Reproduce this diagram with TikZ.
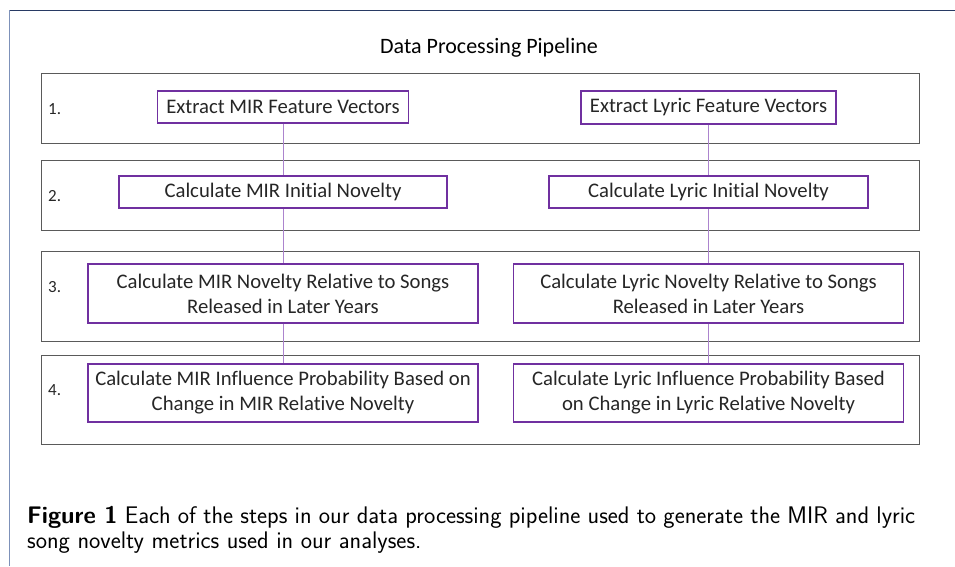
\documentclass[tikz,border=0pt]{standalone}
\usepackage{fontspec}
\setmainfont{Carlito}[Ligatures=NoCommon]
\usepackage{tikz}
\usetikzlibrary{shapes,arrows}
\usetikzlibrary{calc}

\definecolor{stepPurple}{RGB}{112,48,160}
\definecolor{linkPurple}{RGB}{172,132,206}
\definecolor{rowGray}{RGB}{90,90,90}
\definecolor{frameTop}{RGB}{40,58,100}
\definecolor{frameSide}{RGB}{125,145,185}
\definecolor{stepText}{RGB}{38,38,38}

\tikzset{
	stepbox/.style={draw=stepPurple, line width=1.1pt, fill=white, align=center,
		inner sep=0pt, text=stepText, font=\fontsize{20.7}{25}\selectfont},
	rowbox/.style={draw=rowGray, line width=0.9pt},
	rowlabel/.style={font=\fontsize{17}{20}\selectfont, anchor=west, inner sep=0pt, text=stepText},
	link/.style={draw=linkPurple, line width=1pt}
}

\begin{document}
\begin{tikzpicture}[x=1pt,y=-1pt]
	\useasboundingbox (0,0) rectangle (955,566);
	
	% page frame, top and left edge
	\draw[frameTop, line width=1pt] (9,10) -- (955,10);
	\draw[frameSide, line width=1pt] (9,10) -- (9,566);
	
	\def\xm{283} % x of MIR column
	\def\xl{708.5} % x of lyric column
	
	\node (title) at (489,48) {\fontsize{22}{26}\selectfont Data Processing Pipeline};
	
	% the four rows
	\draw[rowbox] (41,73) rectangle (919,143);
	\draw[rowbox] (41,160) rectangle (919,230);
	\draw[rowbox] (41,251) rectangle (919,341);
	\draw[rowbox] (41,355) rectangle (919,444);
	
	\node[rowlabel] (num1) at (48,109) {1.};
	\node[rowlabel] (num2) at (48,196) {2.};
	\node[rowlabel] (num3) at (48,287) {3.};
	\node[rowlabel] (num4) at (48,390) {4.};
	
	% step 1
	\node[stepbox, minimum width=251pt, minimum height=32pt] (mir1) at (\xm,107) {Extract MIR Feature Vectors};
	\node[stepbox, minimum width=255pt, minimum height=33pt] (lyr1) at (\xl,107.5) {Extract Lyric Feature Vectors};
	
	% step 2
	\node[stepbox, minimum width=328pt, minimum height=32pt] (mir2) at (\xm,192) {Calculate MIR Initial Novelty};
	\node[stepbox, minimum width=319pt, minimum height=32pt] (lyr2) at (\xl,192) {Calculate Lyric Initial Novelty};
	
	% step 3
	\node[stepbox, minimum width=390pt, minimum height=59pt] (mir3) at (\xm,293.5) {Calculate MIR Novelty Relative to Songs\\Released in Later Years};
	\node[stepbox, minimum width=390pt, minimum height=59pt] (lyr3) at (\xl,293.5) {Calculate Lyric Novelty Relative to Songs\\Released in Later Years};
	
	% step 4
	\node[stepbox, minimum width=390pt, minimum height=58pt] (mir4) at (\xm,393) {Calculate MIR Influence Probability Based on\\Change in MIR Relative Novelty};
	\node[stepbox, minimum width=390pt, minimum height=58pt] (lyr4) at (\xl,393) {Calculate Lyric Influence Probability Based\\on Change in Lyric Relative Novelty};
	
	% links between the steps
	\draw[link] (mir1) -- (mir2);
	\draw[link] (mir2) -- (mir3);
	\draw[link] (mir3) -- (mir4);
	\draw[link] (lyr1) -- (lyr2);
	\draw[link] (lyr2) -- (lyr3);
	\draw[link] (lyr3) -- (lyr4);
	
	% caption
	\node[anchor=north west, inner sep=0pt, text width=888pt, align=justify,
	font=\sffamily\fontsize{24}{25}\selectfont] (caption) at (27,506)
	{\textbf{Figure 1} Each of the steps in our data processing pipeline used to generate the MIR and lyric\linebreak song novelty metrics used in our analyses.};
\end{tikzpicture}
\end{document}
